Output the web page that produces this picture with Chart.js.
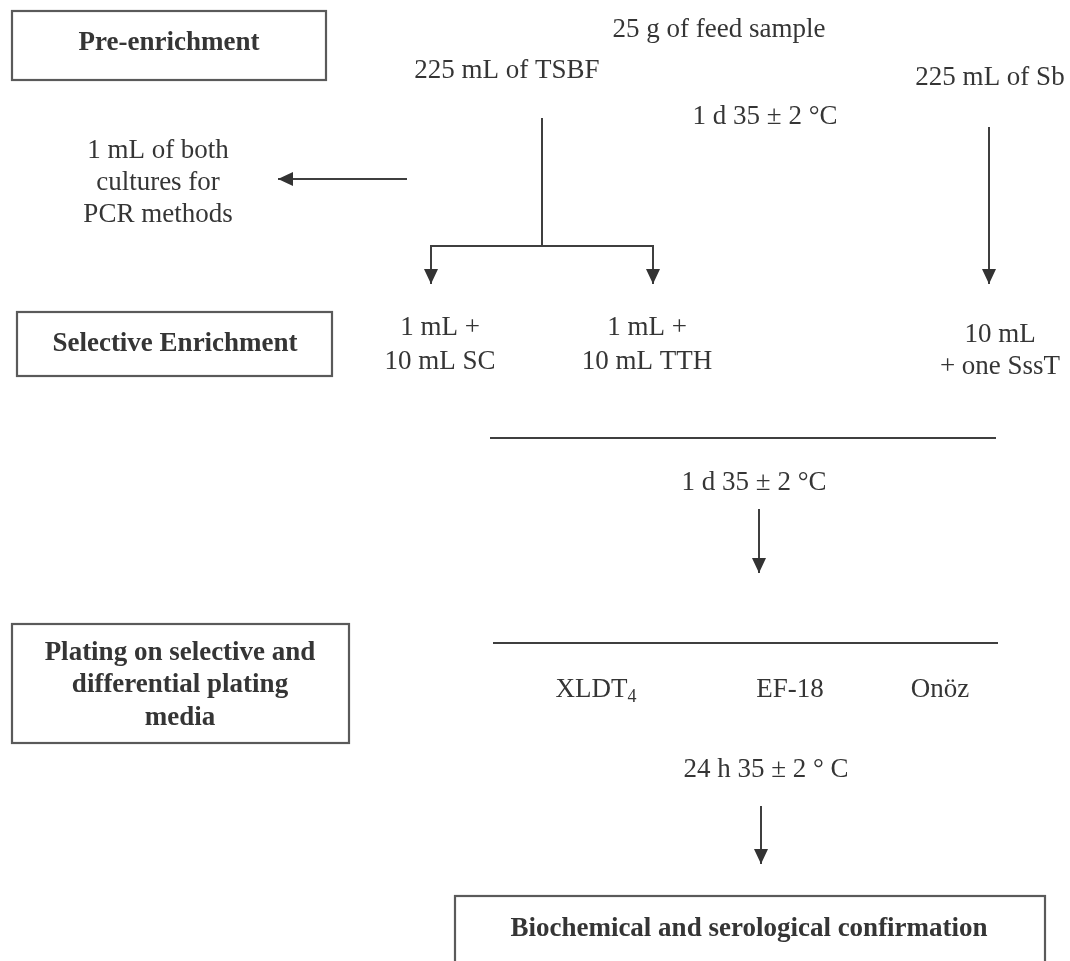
<!DOCTYPE html>
<html>
<head>
<meta charset="utf-8">
<script src="https://cdn.jsdelivr.net/npm/chart.js@4.4.1/dist/chart.umd.min.js"></script>
<style>
  html, body { margin: 0; padding: 0; background: #ffffff; }
  #wrap { position: relative; width: 1070px; height: 961px; }
</style>
</head>
<body>
<div id="wrap"><canvas id="flow"></canvas></div>
<script>
// ---------- content (texts of the flow diagram) ----------
const stageLabels = [
  ['Pre-enrichment'],
  ['Selective Enrichment'],
  ['Plating on selective and', 'differential plating', 'media'],
  ['Biochemical and serological confirmation']
];
const sampleLabel = ['25 g of feed sample'];
const brothLabels = ['225 mL of TSBF', '225 mL of Sb'];
const pcrLabel = ['1 mL of both', 'cultures for', 'PCR methods'];
const enrichmentLabels = [
  ['1 mL +', '10 mL SC'],
  ['1 mL +', '10 mL TTH'],
  ['10 mL', '+ one SssT']
];
const incubationLabels = ['1 d 35 ± 2 °C', '1 d 35 ± 2 °C', '24 h 35 ± 2 ° C'];
const mediaLabels = ['XLDT', 'EF-18', 'Onöz'];
const mediaSubscripts = ['4', '', ''];

// ---------- layout (diagram units = scale values) ----------
const layout = {
  boxes: [
    { x0: 12, y0: 11, x1: 326, y1: 80, tx: 169, ty: [50] },
    { x0: 17, y0: 312, x1: 332, y1: 376, tx: 175, ty: [351] },
    { x0: 12, y0: 624, x1: 349, y1: 743, tx: 180, ty: [660, 692, 725] },
    { x0: 455, y0: 896, x1: 1045, y1: 990, tx: 749, ty: [936] }
  ],
  sample: { x: 719, y: [37] },
  broths: [ { x: 507, y: [78] }, { x: 990, y: [85] } ],
  pcr: { x: 158, y: [158, 190, 222] },
  enrich: [ { x: 440, y: [335, 369] }, { x: 647, y: [335, 369] }, { x: 1000, y: [342, 374] } ],
  incub: [ { x: 765, y: [124] }, { x: 754, y: [490] }, { x: 766, y: [777] } ],
  media: [ { x: 596, y: [697] }, { x: 790, y: [697] }, { x: 940, y: [697] } ],
  connectors: [
    { pts: [[407, 179], [278, 179]], arrow: true },
    { pts: [[542, 118], [542, 246]], arrow: false },
    { pts: [[542, 246], [431, 246], [431, 284]], arrow: true },
    { pts: [[542, 246], [653, 246], [653, 284]], arrow: true },
    { pts: [[989, 127], [989, 284]], arrow: true },
    { pts: [[490, 438], [996, 438]], arrow: false },
    { pts: [[759, 509], [759, 573]], arrow: true },
    { pts: [[493, 643], [998, 643]], arrow: false },
    { pts: [[761, 806], [761, 864]], arrow: true }
  ]
};

const style = {
  font: '"Liberation Serif", "Times New Roman", Times, serif',
  size: 27,
  text: '#353535',
  line: '#3f3f3f',
  box: '#5a5a5a'
};

const datasets = layout.connectors.map(c => ({
  data: c.pts.map(p => ({ x: p[0], y: p[1] })),
  showLine: true,
  borderColor: style.line,
  borderWidth: 2,
  pointRadius: 0,
  fill: false,
  tension: 0
}));

const flowPlugin = {
  id: 'flow',
  afterDatasetsDraw(chart) {
    const ctx = chart.ctx;
    const sx = chart.scales.x, sy = chart.scales.y;
    const X = v => sx.getPixelForValue(v);
    const Y = v => sy.getPixelForValue(v);
    ctx.save();

    // arrow heads
    ctx.fillStyle = '#333333';
    layout.connectors.forEach(c => {
      if (!c.arrow) return;
      const n = c.pts.length;
      const [ax, ay] = c.pts[n - 2], [bx, by] = c.pts[n - 1];
      const x1 = X(ax), y1 = Y(ay), x2 = X(bx), y2 = Y(by);
      const ang = Math.atan2(y2 - y1, x2 - x1);
      const L = 15, W = 7;
      ctx.beginPath();
      ctx.moveTo(x2, y2);
      ctx.lineTo(x2 - L * Math.cos(ang) + W * Math.sin(ang), y2 - L * Math.sin(ang) - W * Math.cos(ang));
      ctx.lineTo(x2 - L * Math.cos(ang) - W * Math.sin(ang), y2 - L * Math.sin(ang) + W * Math.cos(ang));
      ctx.closePath();
      ctx.fill();
    });

    // boxes
    ctx.strokeStyle = style.box;
    ctx.lineWidth = 2.2;
    layout.boxes.forEach(b => {
      ctx.strokeRect(X(b.x0), Y(b.y0), X(b.x1) - X(b.x0), Y(b.y1) - Y(b.y0));
    });

    const drawLines = (lines, x, ys, bold) => {
      ctx.font = (bold ? 'bold ' : '') + style.size + 'px ' + style.font;
      ctx.fillStyle = style.text;
      ctx.textAlign = 'center';
      ctx.textBaseline = 'alphabetic';
      lines.forEach((t, i) => ctx.fillText(t, X(x), Y(ys[i])));
    };

    stageLabels.forEach((lines, i) => drawLines(lines, layout.boxes[i].tx, layout.boxes[i].ty, true));
    drawLines(sampleLabel, layout.sample.x, layout.sample.y, false);
    brothLabels.forEach((t, i) => drawLines([t], layout.broths[i].x, layout.broths[i].y, false));
    drawLines(pcrLabel, layout.pcr.x, layout.pcr.y, false);
    enrichmentLabels.forEach((lines, i) => drawLines(lines, layout.enrich[i].x, layout.enrich[i].y, false));
    incubationLabels.forEach((t, i) => drawLines([t], layout.incub[i].x, layout.incub[i].y, false));

    // plating media with optional subscript
    mediaLabels.forEach((t, i) => {
      const m = layout.media[i];
      const sub = mediaSubscripts[i];
      const mainFont = style.size + 'px ' + style.font;
      const subFont = Math.round(style.size * 0.65) + 'px ' + style.font;
      ctx.font = mainFont;
      const w1 = ctx.measureText(t).width;
      ctx.font = subFont;
      const w2 = sub ? ctx.measureText(sub).width : 0;
      const left = X(m.x) - (w1 + w2) / 2;
      ctx.textAlign = 'left';
      ctx.fillStyle = style.text;
      ctx.font = mainFont;
      ctx.fillText(t, left, Y(m.y[0]));
      if (sub) {
        ctx.font = subFont;
        ctx.fillText(sub, left + w1, Y(m.y[0]) + 5);
      }
    });
    ctx.restore();
  }
};

new Chart(document.getElementById('flow'), {
  type: 'scatter',
  data: { datasets },
  options: {
    responsive: true,
    maintainAspectRatio: false,
    animation: false,
    devicePixelRatio: 1,
    layout: { padding: 0 },
    plugins: { legend: { display: false }, tooltip: { enabled: false }, title: { display: false } },
    events: [],
    scales: {
      x: { type: 'linear', min: 0, max: 1070, display: false },
      y: { type: 'linear', min: 0, max: 961, reverse: true, display: false }
    }
  },
  plugins: [flowPlugin]
});
</script>
</body>
</html>
